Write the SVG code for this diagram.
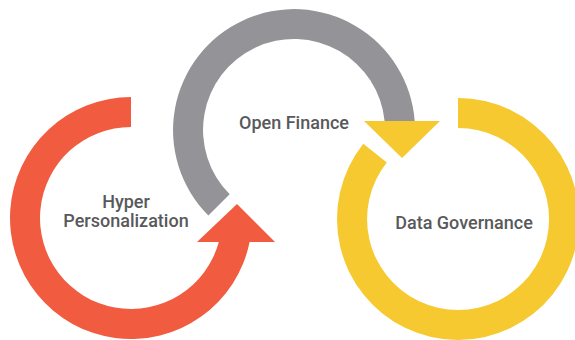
<svg xmlns="http://www.w3.org/2000/svg" width="575" height="340" viewBox="0 0 575 340">
  <style>
    .lbl { font-family: Roboto, "Liberation Sans", sans-serif; font-weight: 500; font-size: 18px; fill: #58595B; text-anchor: middle; }
    .red { fill: #F15C41; }
    .gray { fill: #949498; }
    .yellow { fill: #F5C92F; }
  </style>
  <rect width="575" height="340" fill="#FFFFFF"/>
  <g id="connectors">
    <g id="arc-hyper-personalization">
      <path class="red" d="M131,97 A121,121 0 1 0 249.6,242 L218.8,242 A91,91 0 1 1 131,127 Z"/>
      <polygon class="red" points="197,242 275,242 237,204"/>
    </g>
    <g id="arc-open-finance">
      <path class="gray" d="M414.7,121 A121,121 0 1 0 208.4,215.6 L229.7,194.3 A91,91 0 1 1 384.6,121 Z"/>
      <polygon class="yellow" points="364,121 440,121 402,158"/>
    </g>
    <g id="arc-data-governance">
      <path class="yellow" d="M458,98 A121,121 0 1 1 363.3,143.7 L386.8,162.4 A91,91 0 1 0 458,128 Z"/>
    </g>
  </g>
  <g id="node-hyper-personalization">
    <text class="lbl" x="126" y="208">Hyper</text>
    <text class="lbl" x="126" y="227">Personalization</text>
  </g>
  <g id="node-open-finance">
    <text class="lbl" x="294" y="129">Open Finance</text>
  </g>
  <g id="node-data-governance">
    <text class="lbl" x="464" y="229">Data Governance</text>
  </g>
</svg>
